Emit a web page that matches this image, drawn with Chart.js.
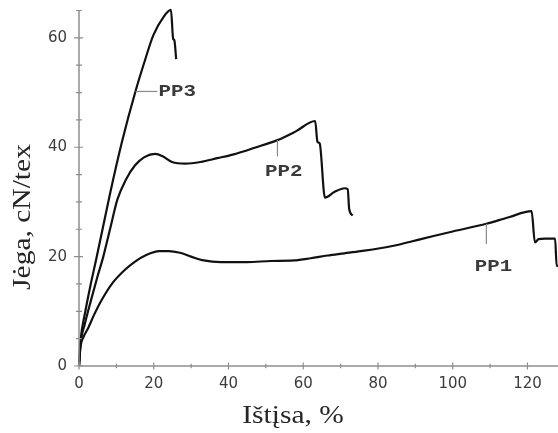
<!DOCTYPE html>
<html>
<head>
<meta charset="utf-8">
<script src="https://cdn.jsdelivr.net/npm/chart.js@4.4.1/dist/chart.umd.min.js"></script>
<style>
html,body{margin:0;padding:0;background:#fff;}
#wrap{width:558px;height:433px;}
</style>
</head>
<body>
<div id="wrap"><canvas id="c" width="558" height="433"></canvas></div>
<script>
// ---- data ----
const pp1Strain = [0, 0.4, 1.2, 2.5, 4, 6.1, 9, 12.3, 15, 18, 21.5, 24, 27, 30, 33.4, 37.9, 45, 51.3, 57.5, 62, 66.5, 71, 75.4, 83.5, 91.5, 100, 109, 115, 121.1, 122, 123, 124.7, 127.4, 127.8, 128.6];
const pp1Force  = [0, 3.5, 5.3, 7, 9.3, 12.1, 15.2, 17.6, 19.1, 20.3, 21, 21, 20.7, 20, 19.3, 19, 19, 19.2, 19.3, 19.7, 20.2, 20.6, 21, 21.9, 23.2, 24.6, 26, 27.2, 28.3, 22.6, 23.2, 23.3, 23.3, 18.3, 18.3];

const pp2Strain = [0, 0.4, 1.5, 3.2, 4.8, 6.5, 8.3, 10.3, 12.5, 15, 17.5, 20.4, 22.5, 24.9, 28.5, 32.5, 37, 41.4, 47, 53.1, 58, 63.2, 63.8, 64.4, 65.8, 68.3, 71.1, 71.9, 72.3, 73.2];
const pp2Force  = [0, 4, 7.5, 12, 16, 20, 25, 30.5, 34, 36.7, 38.2, 38.8, 38.3, 37.3, 37, 37.3, 38, 38.7, 39.9, 41.3, 42.9, 44.8, 41, 40.7, 30.8, 31.8, 32.5, 32.3, 28.7, 27.5];

const pp3Strain = [0, 0.4, 1.7, 3, 4.6, 6.3, 8.3, 11.5, 15.1, 17.7, 19.9, 22.6, 24.6, 25.2, 25.5, 26];
const pp3Force  = [0, 4.5, 10, 14.5, 19.5, 25, 31.5, 41, 50.2, 56, 60.5, 63.8, 65.1, 59.8, 59.6, 56.1];

const seriesNames = ['PP1', 'PP2', 'PP3'];
const xMajorTicks = [0, 20, 40, 60, 80, 100, 120];
const yMajorTicks = [0, 20, 40, 60];
const xTitle = 'Ištįsa, %';
const yTitle = 'Jėga, cN/tex';

// label anchors (data coordinates on each curve)
const labelAnchors = [
  {name: 'PP1', at: [109, 26], end: [109, 22.3], text: [110.9, 18.2]},
  {name: 'PP2', at: [53.1, 41.3], end: [53.1, 38.3], text: [54.8, 35.7]},
  {name: 'PP3', at: [15.1, 50.2], end: [21.0, 50.2], text: [21.3, 50.2], left: true}
];

function pts(xs, ys){ return xs.map((x,i)=>({x:x, y:ys[i]})); }

const AXIS_COLOR = '#8e8e8e';

const decor = {
  id: 'decor',
  afterDraw(chart){
    const ctx = chart.ctx;
    const xs = chart.scales.x, ys = chart.scales.y;
    const x0 = xs.getPixelForValue(0), y0 = ys.getPixelForValue(0);
    ctx.save();
    ctx.strokeStyle = AXIS_COLOR;
    ctx.lineWidth = 1.5;
    ctx.beginPath();
    ctx.moveTo(x0, y0); ctx.lineTo(chart.width, y0);
    ctx.moveTo(x0, y0); ctx.lineTo(x0, chart.chartArea.top);
    ctx.stroke();
    ctx.lineWidth = 1.2;
    ctx.beginPath();
    for (let v = 0; v <= 120; v += 10){
      const px = xs.getPixelForValue(v);
      const major = v % 20 === 0;
      const h = major ? 3.5 : 2.2;
      ctx.moveTo(px, y0 - h); ctx.lineTo(px, y0 + h);
    }
    for (let v = 0; v <= 65; v += 5){
      const py = ys.getPixelForValue(v);
      const major = v % 20 === 0;
      ctx.moveTo(x0 - (major ? 5 : 3), py); ctx.lineTo(x0 + (major ? 4 : 3), py);
    }
    ctx.stroke();

    // axis titles
    ctx.fillStyle = '#262626';
    ctx.font = '25px "Liberation Serif"';
    ctx.textAlign = 'center';
    ctx.textBaseline = 'middle';
    ctx.save();
    ctx.translate(293, 416);
    ctx.scale(1.18, 1);
    ctx.fillText(xTitle, 0, 0);
    ctx.restore();
    ctx.save();
    ctx.translate(23, 217);
    ctx.rotate(-Math.PI/2);
    ctx.scale(1.18, 1);
    ctx.fillText(yTitle, 0, 0);
    ctx.restore();

    // curve labels with leader lines
    ctx.strokeStyle = '#8a8a8a';
    ctx.lineWidth = 1.2;
    ctx.font = 'bold 16px "Liberation Mono"';
    ctx.fillStyle = '#3a3a3a';
    labelAnchors.forEach(a => {
      ctx.beginPath();
      ctx.moveTo(xs.getPixelForValue(a.at[0]), ys.getPixelForValue(a.at[1]));
      ctx.lineTo(xs.getPixelForValue(a.end[0]), ys.getPixelForValue(a.end[1]));
      ctx.stroke();
      ctx.save();
      ctx.translate(xs.getPixelForValue(a.text[0]), ys.getPixelForValue(a.text[1]));
      ctx.scale(1.3, 1);
      ctx.textAlign = a.left ? 'left' : 'center';
      ctx.textBaseline = 'middle';
      ctx.fillText(a.name, 0, 1);
      ctx.restore();
    });
    ctx.restore();
  }
};

const lineStyle = {borderColor: '#111', borderWidth: 2.2, pointRadius: 0, fill: false, cubicInterpolationMode: 'monotone'};

function noOverhang(s){ s.paddingTop = 0; s.paddingBottom = 0; s.paddingLeft = 0; s.paddingRight = 0; }

const chart = new Chart(document.getElementById('c'), {
  type: 'line',
  data: {
    datasets: [
      Object.assign({label: seriesNames[0], data: pts(pp1Strain, pp1Force)}, lineStyle),
      Object.assign({label: seriesNames[1], data: pts(pp2Strain, pp2Force)}, lineStyle),
      Object.assign({label: seriesNames[2], data: pts(pp3Strain, pp3Force)}, lineStyle)
    ]
  },
  options: {
    responsive: false,
    animation: false,
    clip: false,
    layout: {padding: {top: 10.5, right: 0, left: 0, bottom: 0}},
    plugins: {legend: {display: false}, tooltip: {enabled: false}},
    scales: {
      x: {
        type: 'linear', min: 0, max: 128.6,
        afterBuildTicks: s => { s.ticks = xMajorTicks.map(v => ({value: v})); },
        afterFit: s => { s.height = 67; noOverhang(s); },
        grid: {display: false, drawTicks: false},
        border: {display: false},
        ticks: {padding: 9, maxRotation: 0, autoSkip: false, color: '#3c3c3c',
                font: {family: '"DejaVu Sans"', size: 15}}
      },
      y: {
        type: 'linear', min: 0, max: 65,
        afterBuildTicks: s => { s.ticks = yMajorTicks.map(v => ({value: v})); },
        afterFit: s => { s.width = 79; noOverhang(s); },
        grid: {display: false, drawTicks: false},
        border: {display: false},
        ticks: {padding: 12, color: '#3c3c3c', font: {family: '"DejaVu Sans"', size: 15}}
      }
    }
  },
  plugins: [decor]
});

// match the reference's horizontal scale (120 % at x ≈ 528 px)
const pxPerUnit = (528.5 - chart.chartArea.left) / 120;
chart.options.scales.x.max = (chart.chartArea.right - chart.chartArea.left) / pxPerUnit;
chart.update();
</script>
</body>
</html>
